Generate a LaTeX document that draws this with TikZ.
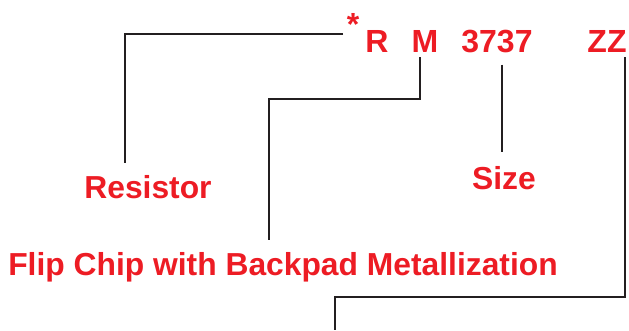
\documentclass[tikz,border=0pt]{standalone}
\usepackage{fontspec}
\setmainfont{Liberation Sans}
\definecolor{codered}{RGB}{237,28,36}
\definecolor{leader}{RGB}{35,31,32}
\tikzset{
  code/.style={text=codered,font=\bfseries\fontsize{32}{38}\selectfont,anchor=base,inner sep=5pt},
  label/.style={text=codered,font=\bfseries\fontsize{31.8}{37}\selectfont,anchor=base,inner sep=12pt},
  lead/.style={draw=leader,line width=2.6pt}
}

\begin{document}
\begin{tikzpicture}[x=1pt,y=-1pt]
\useasboundingbox (0,0) rectangle (629,330);
\node[code] (r) at (377,52){R};
\node[code,font=\bfseries\fontsize{32}{38}\selectfont,inner sep=0pt] (ast) at (353,35){*};
\node[code] (m) at (425,52){M};
\node[code] (size) at (497,52){3737};
\node[code] (zz) at (607,52){ZZ};
\node[label] (res) at (148,198){Resistor};
\node[label] (sz) at (504,189){Size};
\node[label] (flip) at (283,275){Flip Chip with Backpad Metallization};
\coordinate (rend) at (343,34);
\coordinate (fend) at (335,330);
\draw[lead] (rend) -| ([xshift=-23pt]res.north);
\draw[lead] (m.south -| 420,0) |- (269,99) -- (flip.north -| 269,0);
\draw[lead,shorten <=7pt,shorten >=2pt] (size.south -| 502,0) -- (sz.north -| 502,0);
\draw[lead] (zz.south -| 625,0) |- (fend |- 0,297) -- (fend);
\end{tikzpicture}
\end{document}
